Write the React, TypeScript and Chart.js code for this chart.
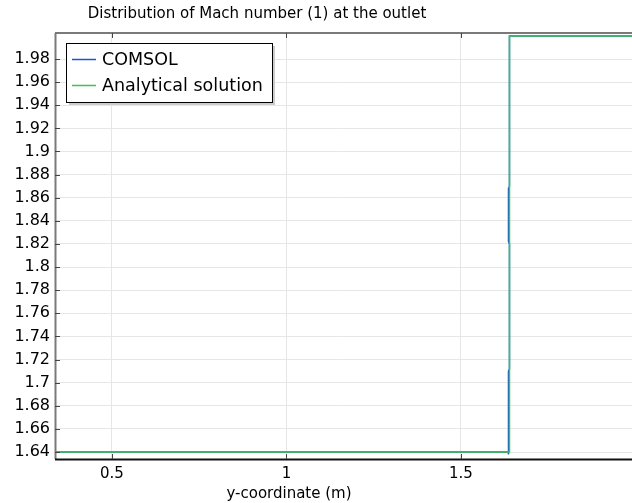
import React, { useEffect, useRef } from "react";
import { Chart, registerables } from "chart.js";

Chart.register(...registerables);

const titleText = "Distribution of Mach number (1) at the outlet";
const xAxisTitle = "y-coordinate (m)";
const seriesNames = ["COMSOL", "Analytical solution"];

const comsolX = [0.337, 1.6355, 1.6362, 1.6362, 1.639, 1.639, 1.6362, 1.6362, 1.639, 1.639, 1.99];
const comsolY = [1.64, 1.64, 1.638, 1.71, 1.712, 1.82, 1.822, 1.868, 1.87, 2.0, 2.0];

const analyticX = [0.337, 1.639, 1.639, 1.99];
const analyticY = [1.64, 1.64, 2.0, 2.0];

const xTicks = [0.5, 1, 1.5];
const yTicks = [1.64, 1.66, 1.68, 1.7, 1.72, 1.74, 1.76, 1.78, 1.8, 1.82, 1.84, 1.86, 1.88, 1.9, 1.92, 1.94, 1.96, 1.98];

const xMin = 0.337;
const xMax = 1.99;
const yMin = 1.634;
const yMax = 2.0025;

const BLUE = "#2250d8";
const GREEN = "#3cc44c";
const FONT = "'DejaVu Sans', sans-serif";

const decorPlugin = {
  id: "decor",
  afterDraw(chart: any) {
    const ctx = chart.ctx;
    const a = chart.chartArea;
    const xs = chart.scales.x;
    const ys = chart.scales.y;
    ctx.save();
    // frame
    ctx.lineWidth = 2;
    ctx.strokeStyle = "#7a7a7a";
    ctx.beginPath();
    ctx.moveTo(a.left, a.top);
    ctx.lineTo(a.right, a.top);
    ctx.stroke();
    ctx.beginPath();
    ctx.moveTo(a.left + 0.5, a.top);
    ctx.lineTo(a.left + 0.5, a.bottom);
    ctx.stroke();
    ctx.strokeStyle = "#111";
    ctx.beginPath();
    ctx.moveTo(a.left, a.bottom + 0.5);
    ctx.lineTo(a.right, a.bottom + 0.5);
    ctx.stroke();
    // tick marks
    ctx.lineWidth = 1;
    ctx.strokeStyle = "#444";
    yTicks.forEach((v) => {
      const y = Math.round(ys.getPixelForValue(v)) + 0.5;
      ctx.beginPath();
      ctx.moveTo(a.left, y);
      ctx.lineTo(a.left + 5, y);
      ctx.stroke();
    });
    xTicks.forEach((v) => {
      const x = Math.round(xs.getPixelForValue(v)) + 0.5;
      ctx.beginPath();
      ctx.moveTo(x, a.top);
      ctx.lineTo(x, a.top + 5);
      ctx.stroke();
      ctx.beginPath();
      ctx.moveTo(x, a.bottom);
      ctx.lineTo(x, a.bottom - 5);
      ctx.stroke();
    });
    // title
    ctx.fillStyle = "#000";
    ctx.font = `15px ${FONT}`;
    ctx.textAlign = "center";
    ctx.textBaseline = "alphabetic";
    ctx.fillText(titleText, 257, 18);
    ctx.fillText(xAxisTitle, 289, 498);
    // legend
    const lx = 66, ly = 43, lw = 206, lh = 59;
    ctx.fillStyle = "#cccccc";
    ctx.fillRect(lx + 3, ly + 3, lw, lh);
    ctx.fillStyle = "#ffffff";
    ctx.fillRect(lx, ly, lw, lh);
    ctx.strokeStyle = "#000";
    ctx.lineWidth = 1;
    ctx.strokeRect(lx + 0.5, ly + 0.5, lw, lh);
    const colors = [BLUE, GREEN];
    const rows = [59.5, 85.5];
    seriesNames.forEach((name, i) => {
      ctx.strokeStyle = colors[i];
      ctx.lineWidth = 1.5;
      ctx.beginPath();
      ctx.moveTo(72, rows[i]);
      ctx.lineTo(96, rows[i]);
      ctx.stroke();
      ctx.fillStyle = "#000";
      ctx.textAlign = "left";
      ctx.textBaseline = "middle";
      ctx.font = `17.5px ${FONT}`;
      ctx.fillText(name, 102, rows[i] + 0.5);
    });
    ctx.restore();
  },
};

export default function App() {
  const ref = useRef<HTMLCanvasElement | null>(null);
  useEffect(() => {
    if (!ref.current) return;
    const chart = new Chart(ref.current, {
      type: "line",
      data: {
        datasets: [
          {
            label: seriesNames[0],
            data: comsolX.map((x, i) => ({ x, y: comsolY[i] })),
            borderColor: BLUE,
            borderWidth: 1.5,
            pointRadius: 0,
            fill: false,
            tension: 0,
            order: 1,
          },
          {
            label: seriesNames[1],
            data: analyticX.map((x, i) => ({ x, y: analyticY[i] })),
            borderColor: GREEN,
            borderWidth: 1.5,
            pointRadius: 0,
            fill: false,
            tension: 0,
            order: 0,
          },
        ],
      },
      options: {
        responsive: false,
        animation: false,
        devicePixelRatio: 1,
        layout: { padding: { top: 33, left: 0, right: 0, bottom: 0 } },
        plugins: {
          legend: { display: false },
          title: { display: false },
          tooltip: { enabled: false },
        },
        scales: {
          x: {
            type: "linear",
            min: xMin,
            max: xMax,
            afterBuildTicks: (s: any) => {
              s.ticks = xTicks.map((v) => ({ value: v }));
            },
            afterFit: (s: any) => {
              s.height = 44;
            },
            grid: { color: "#e6e6e6", drawTicks: false },
            border: { display: false },
            ticks: {
              padding: 6,
              color: "#000",
              font: { family: FONT, size: 15 },
              maxRotation: 0,
              autoSkip: false,
              callback: (v: any) => String(Number(Number(v).toFixed(2))),
            },
          },
          y: {
            type: "linear",
            min: yMin,
            max: yMax,
            afterBuildTicks: (s: any) => {
              s.ticks = yTicks.map((v) => ({ value: v }));
            },
            afterFit: (s: any) => {
              s.width = 55;
            },
            grid: { color: "#e6e6e6", drawTicks: false },
            border: { display: false },
            ticks: {
              padding: 5,
              color: "#000",
              font: { family: FONT, size: 16 },
              autoSkip: false,
              callback: (v: any) => String(Number(Number(v).toFixed(2))),
            },
          },
        },
      },
      plugins: [decorPlugin],
    } as any);
    return () => chart.destroy();
  }, []);
  return (
    <div style={{ position: "fixed", left: 0, top: 0, width: 632, height: 503, background: "#fff" }}>
      <canvas ref={ref} width={632} height={503} />
    </div>
  );
}
